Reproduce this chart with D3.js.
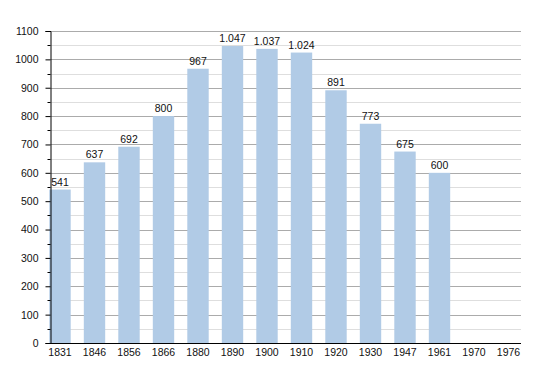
<!DOCTYPE html>
<html>
<head>
<meta charset="utf-8">
<script src="https://cdn.jsdelivr.net/npm/d3@7"></script>
<style>
  body { margin: 0; background: #fff; }
  text { font-family: "Liberation Sans", Arial, sans-serif; }
</style>
</head>
<body>
<div id="chart"></div>
<script>
// data
var years = ["1831", "1846", "1856", "1866", "1880", "1890", "1900", "1910", "1920", "1930", "1947", "1961", "1970", "1976"];
var population = [541, 637, 692, 800, 967, 1047, 1037, 1024, 891, 773, 675, 600, null, null];
var yTicks = [0, 100, 200, 300, 400, 500, 600, 700, 800, 900, 1000, 1100];

var svgWidth = 550, svgHeight = 373;
var axisX = 50.5, plotRight = 521, plotTop = 31, plotBottom = 343;

var svg = d3.select("#chart").append("svg")
  .attr("width", svgWidth)
  .attr("height", svgHeight);

var y = d3.scaleLinear().domain([0, 1100]).range([plotBottom, plotTop]);
var x = d3.scaleBand().domain(years)
  .range([42.75, 525.75])
  .paddingInner(0.38)
  .paddingOuter(0.19);

var fmt = d3.formatLocale({decimal: ",", thousands: ".", grouping: [3], currency: ["", ""]}).format(",d");

// minor grid lines (every 50)
var minor = d3.range(50, 1100, 100);
svg.append("g").selectAll("line").data(minor).enter().append("line")
  .attr("x1", axisX).attr("x2", plotRight)
  .attr("y1", d => Math.round(y(d)) + 0.5).attr("y2", d => Math.round(y(d)) + 0.5)
  .attr("stroke", "#dedede").attr("stroke-width", 1);
// major grid lines
svg.append("g").selectAll("line").data(yTicks.slice(1)).enter().append("line")
  .attr("x1", axisX).attr("x2", plotRight)
  .attr("y1", d => Math.round(y(d)) + 0.5).attr("y2", d => Math.round(y(d)) + 0.5)
  .attr("stroke", "#ababab").attr("stroke-width", 1);

// bars
var data = years.map((yr, i) => ({year: yr, value: population[i]})).filter(d => d.value != null);
svg.append("g").selectAll("rect").data(data).enter().append("rect")
  .attr("x", d => x(d.year))
  .attr("y", d => y(d.value))
  .attr("width", x.bandwidth())
  .attr("height", d => plotBottom - y(d.value))
  .attr("fill", "#b1cbe6");

// value labels
svg.append("g").selectAll("text").data(data).enter().append("text")
  .attr("x", d => x(d.year) + x.bandwidth() / 2)
  .attr("y", d => y(d.value) - 4)
  .attr("text-anchor", "middle")
  .attr("font-size", "10.5px")
  .attr("fill", "#111")
  .text(d => fmt(d.value));

// y axis
var leftAxis = d3.axisLeft(y).tickValues(yTicks).tickFormat(d3.format("d")).tickSize(5).tickPadding(7);
var yAxis = svg.append("g")
  .attr("transform", `translate(${axisX},0)`)
  .call(leftAxis);
yAxis.select(".domain").attr("stroke", "#000");
yAxis.selectAll("line").attr("stroke", "#000");
yAxis.selectAll("text").attr("font-size", "10.5px").attr("fill", "#111")
  .attr("font-family", "Liberation Sans, Arial, sans-serif");
// minor ticks
svg.append("g").selectAll("line").data(minor).enter().append("line")
  .attr("x1", axisX - 3).attr("x2", axisX)
  .attr("y1", d => Math.round(y(d)) + 0.5).attr("y2", d => Math.round(y(d)) + 0.5)
  .attr("stroke", "#000");

// x axis
svg.append("line")
  .attr("x1", axisX).attr("x2", plotRight)
  .attr("y1", plotBottom + 0.5).attr("y2", plotBottom + 0.5)
  .attr("stroke", "#000");
svg.append("g").selectAll("text").data(years).enter().append("text")
  .attr("x", d => x(d) + x.bandwidth() / 2)
  .attr("y", plotBottom + 13)
  .attr("text-anchor", "middle")
  .attr("font-size", "10.5px")
  .attr("fill", "#111")
  .text(d => d);
</script>
</body>
</html>
